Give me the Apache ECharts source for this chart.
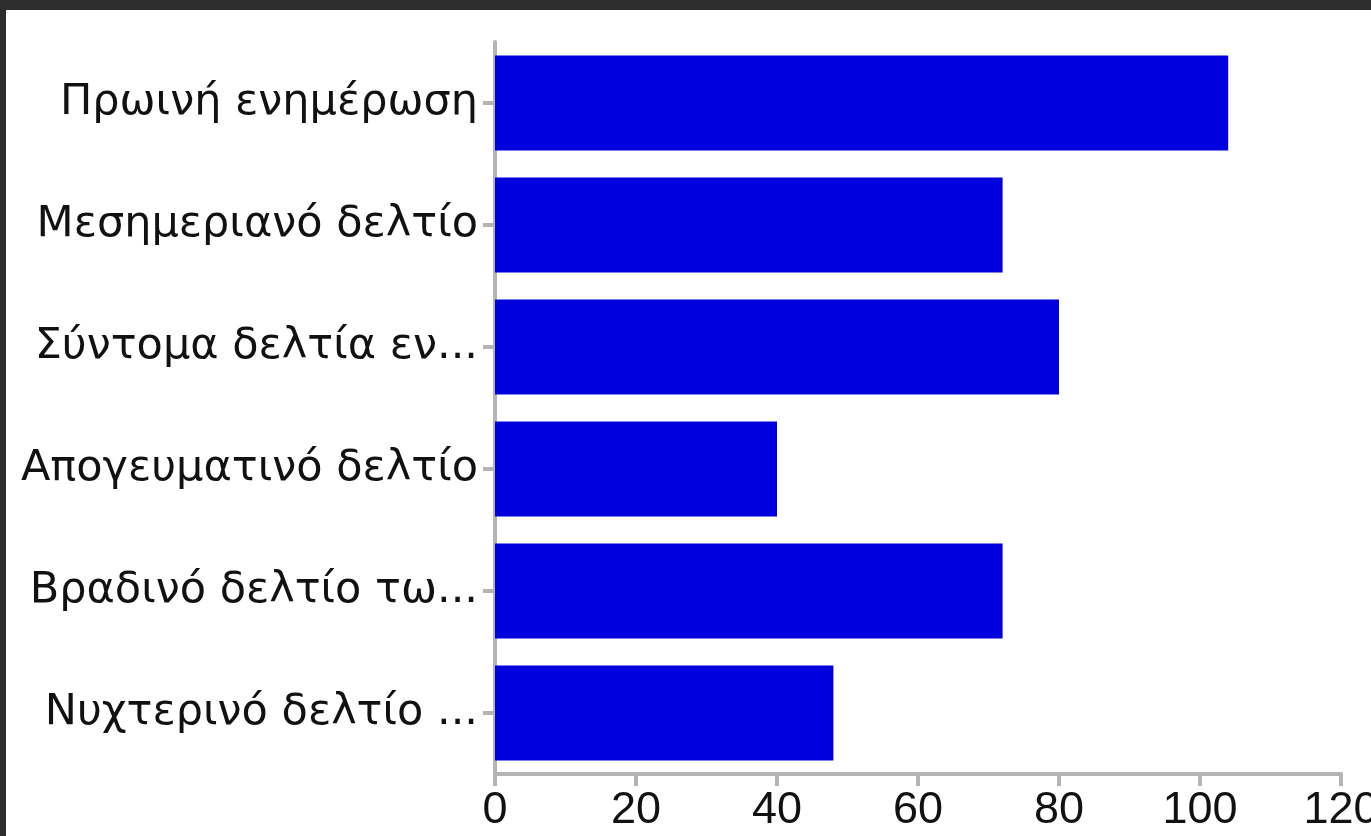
<!DOCTYPE html>
<html>
<head>
<meta charset="utf-8">
<script src="https://cdn.jsdelivr.net/npm/echarts@6/dist/echarts.min.js"></script>
<style>
html,body{margin:0;padding:0;width:1371px;height:836px;overflow:hidden;background:#2d2d2d;}
#chart{position:absolute;left:6px;top:10px;width:1365px;height:826px;background:#fff;}
</style>
</head>
<body>
<div id="chart"></div>
<script>
const categories = ["Πρωινή ενημέρωση","Μεσημεριανό δελτίο","Σύντομα δελτία εν...","Απογευματινό δελτίο","Βραδινό δελτίο τω...","Νυχτερινό δελτίο ..."];
const values = [104, 72, 80, 40, 72, 48];
const xTicks = [0, 20, 40, 60, 80, 100, 120];

const chart = echarts.init(document.getElementById('chart'), null, {renderer:'canvas'});
const axisColor = '#b4b4b4';
chart.setOption({
  animation:false,
  grid:{left:489, right:30, top:32, bottom:62, containLabel:false, outerBoundsMode:'none'},
  xAxis:{
    type:'value', min:xTicks[0], max:xTicks[xTicks.length-1], interval:20,
    axisLine:{show:true, lineStyle:{color:axisColor, width:4}},
    axisTick:{show:true, length:12, lineStyle:{color:axisColor, width:4}},
    splitLine:{show:false},
    axisLabel:{color:'#111', fontFamily:'Liberation Sans', fontSize:45, margin:14}
  },
  yAxis:{
    type:'category', data:categories, inverse:true,
    axisLine:{show:true, lineStyle:{color:axisColor, width:4}},
    axisTick:{show:true, alignWithLabel:true, length:12, lineStyle:{color:axisColor, width:4}},
    axisLabel:{color:'#111', fontFamily:'DejaVu Sans', fontSize:43, margin:17}
  },
  series:[{
    type:'bar', data:values, barWidth:95,
    itemStyle:{color:'#0000de'}
  }]
});
</script>
</body>
</html>
